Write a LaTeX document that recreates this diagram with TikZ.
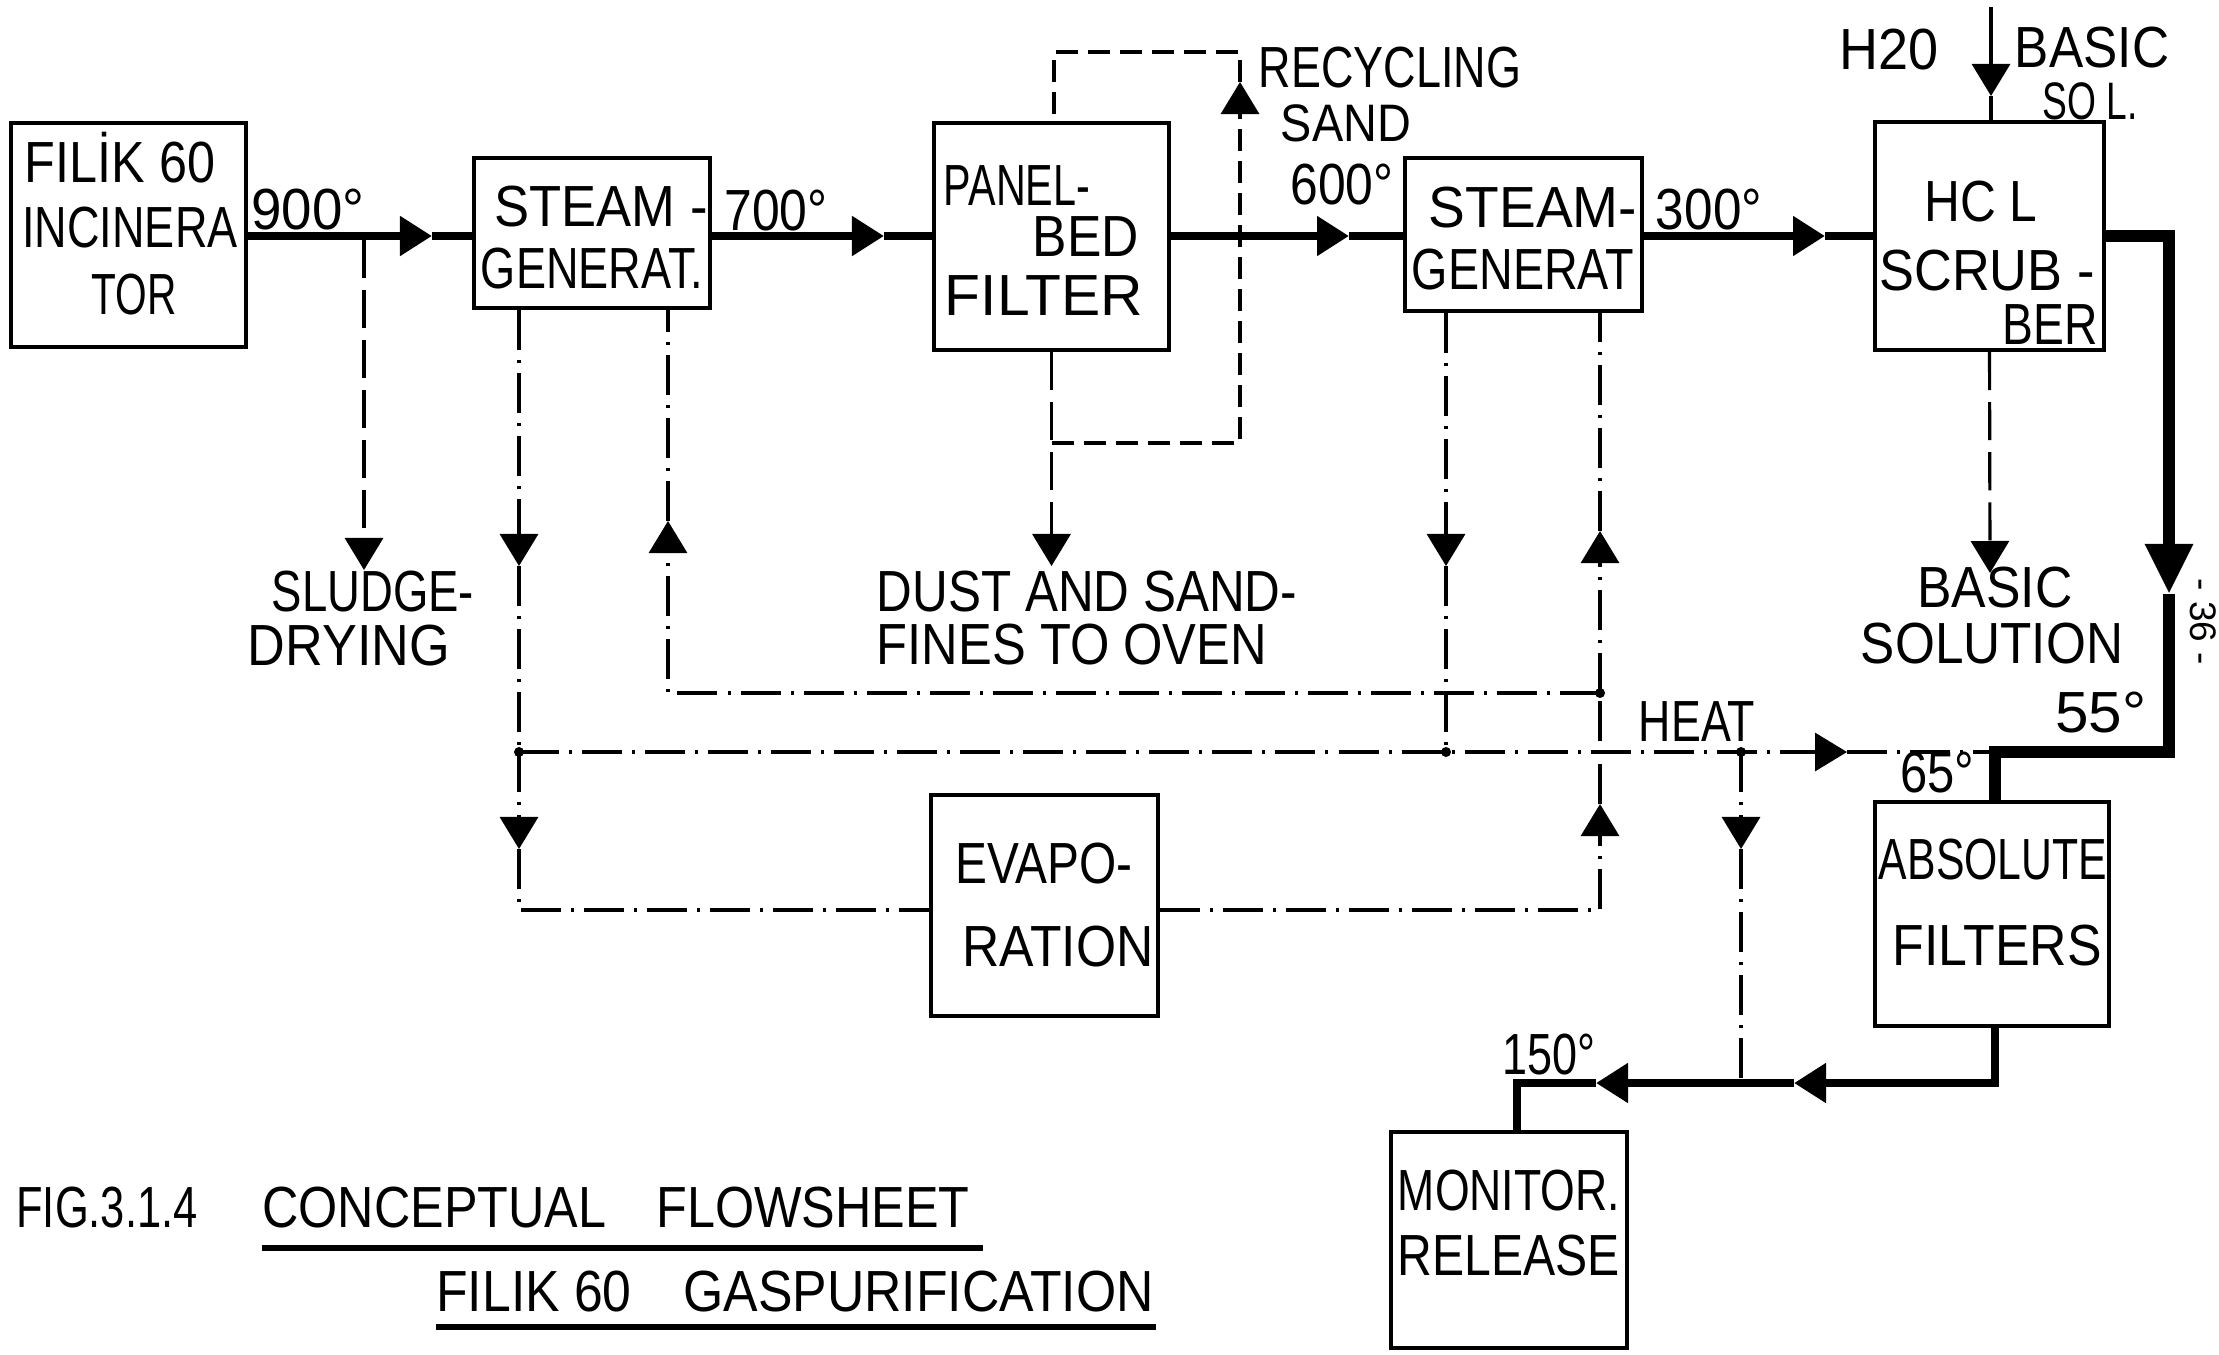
\documentclass[tikz,border=0pt]{standalone}
\usepackage{fontspec}
\setmainfont{Liberation Sans}
\usetikzlibrary{arrows.meta}
\newcommand\fw[2]{\resizebox{#1}{\height}{#2}}
\tikzset{
  box/.style={draw, line width=1.2pt, inner sep=0pt, rectangle},
  lbl/.style={inner sep=0pt, font=\fontsize{16.5}{19}\selectfont},
  slbl/.style={inner sep=0pt, font=\fontsize{15}{17}\selectfont},
  flow/.style={line width=2.3pt, line join=miter},
  bigflow/.style={line width=3.4pt, line join=miter},
  thinl/.style={line width=0.9pt},
  dsh/.style={thinl, dash pattern=on 0.38cm off 0.12cm},
  rdsh/.style={thinl, dash pattern=on 0.22cm off 0.1cm},
  dd/.style={thinl, dash pattern=on 0.4cm off 0.1cm on 0.03cm off 0.1cm},
  tip/.style={-{Triangle[length=0.32cm,width=0.38cm]}},
  bigtip/.style={-{Triangle[length=0.5cm,width=0.45cm]}},
  jdot/.style={circle, fill, inner sep=0pt, minimum size=0.1cm},
}
\begin{document}
\begin{tikzpicture}[x=0.01cm,y=-0.01cm]
\fill[white] (0,0) rectangle (2219,1354);
\path[use as bounding box] (0,0) rectangle (2219,1354);

% boxes
\node[box, minimum width=2.35cm, minimum height=2.24cm] (inc) at (128.5,235) {};
\node[box, minimum width=2.36cm, minimum height=1.50cm] (sg1) at (592,233) {};
\node[box, minimum width=2.35cm, minimum height=2.27cm] (pbf) at (1051.5,236.5) {};
\node[box, minimum width=2.37cm, minimum height=1.53cm] (sg2) at (1523.5,234.5) {};
\node[box, minimum width=2.29cm, minimum height=2.28cm] (hcl) at (1989.5,236) {};
\node[box, minimum width=2.34cm, minimum height=2.24cm] (abs) at (1992,914) {};
\node[box, minimum width=2.27cm, minimum height=2.21cm] (evap) at (1044.5,905.5) {};
\node[box, minimum width=2.36cm, minimum height=2.16cm] (mon) at (1509,1240) {};

% box texts
\node[lbl] (i1) at (120,158) {\fw{1.90cm}{FILİK 60}};
\node[lbl] (i2) at (130,228) {\fw{2.15cm}{INCINERA}};
\node[lbl] (i3) at (134,295) {\fw{0.85cm}{TOR}};
\node[lbl] (s11) at (601,207) {\fw{2.13cm}{STEAM -}};
\node[lbl] (s12) at (592,269) {\fw{2.22cm}{GENERAT.}};
\node[lbl] (p1) at (1017,186) {\fw{1.46cm}{PANEL-}};
\node[lbl] (p2) at (1086,237) {\fw{1.06cm}{BED}};
\node[lbl] (p3) at (1044,296) {\fw{1.98cm}{FILTER}};
\node[lbl] (s21) at (1533,208) {\fw{2.08cm}{STEAM-}};
\node[lbl] (s22) at (1523,270) {\fw{2.22cm}{GENERAT}};
\node[lbl] (h1) at (1981,202) {\fw{1.13cm}{HC L}};
\node[lbl] (h2) at (1987,271) {\fw{2.15cm}{SCRUB -}};
\node[lbl] (h3) at (2050,325) {\fw{0.95cm}{BER}};
\node[lbl] (a1) at (1993,860) {\fw{2.28cm}{ABSOLUTE}};
\node[lbl] (a2) at (1997,946) {\fw{2.09cm}{FILTERS}};
\node[lbl] (e1) at (1044,864) {\fw{1.77cm}{EVAPO-}};
\node[lbl] (e2) at (1058,947) {\fw{1.91cm}{RATION}};
\node[lbl] (m1) at (1509,1190) {\fw{2.22cm}{MONITOR.}};
\node[lbl] (m2) at (1509,1255) {\fw{2.22cm}{RELEASE}};

% labels
\node[lbl] (l900) at (308,210) {\fw{1.13cm}{900°}};
\node[lbl] (l700) at (776,211) {\fw{1.03cm}{700°}};
\node[lbl] (l600) at (1342,185) {\fw{1.03cm}{600°}};
\node[lbl] (l300) at (1709,210) {\fw{1.06cm}{300°}};
\node[lbl] (lrec) at (1390,68) {\fw{2.62cm}{RECYCLING}};
\node[slbl] (lsand) at (1346,123) {\fw{1.30cm}{SAND}};
\node[lbl] (lh2o) at (1889,50) {\fw{0.99cm}{H20}};
\node[lbl] (lbas1) at (2092,48) {\fw{1.54cm}{BASIC}};
\node[slbl] (lsol1) at (2090,101) {\fw{0.95cm}{SO L.}};
\node[lbl] (lsl1) at (373,592) {\fw{2.02cm}{SLUDGE-}};
\node[lbl] (lsl2) at (349,646) {\fw{2.02cm}{DRYING}};
\node[lbl] (ld1) at (1087,592) {\fw{4.20cm}{DUST AND SAND-}};
\node[lbl] (ld2) at (1072,645) {\fw{3.90cm}{FINES TO OVEN}};
\node[lbl] (lbas2) at (1995,588) {\fw{1.55cm}{BASIC}};
\node[lbl] (lsol2) at (1992,644) {\fw{2.62cm}{SOLUTION}};
\node[lbl] (l55) at (2101,713) {\fw{0.91cm}{55°}};
\node[lbl] (l65) at (1937,773) {\fw{0.74cm}{65°}};
\node[lbl] (lheat) at (1697,722) {\fw{1.16cm}{HEAT}};
\node[lbl] (l150) at (1549,1055) {\fw{0.93cm}{150°}};
\node[lbl] (lfig) at (107,1207) {\fw{1.81cm}{FIG.3.1.4}};
\node[lbl] (ltit1) at (616,1208) {\fw{7.07cm}{CONCEPTUAL\quad FLOWSHEET}};
\node[lbl] (ltit2) at (795,1291) {\fw{7.17cm}{FILIK 60\quad GASPURIFICATION}};
\node[inner sep=0pt, font=\fontsize{10.5}{12}\selectfont, rotate=-90] (pg) at (2203,622) {- 36 -};

% title underlines
\coordinate (u1a) at (262,1248); \coordinate (u1b) at (983,1248);
\coordinate (u2a) at (436,1327); \coordinate (u2b) at (1156,1327);
\draw[line width=1.6pt] (u1a) -- (u1b);
\draw[line width=1.6pt] (u2a) -- (u2b);

% main gas flow
\coordinate (t1) at (432,236);
\coordinate (t2) at (884,236);
\coordinate (t3) at (1349,236);
\coordinate (t4) at (1825,236);
\draw[flow, tip] (inc.east |- t1) -- (t1);
\draw[flow] (t1) -- (t1 -| sg1.west);
\draw[flow, tip] (sg1.east |- t2) -- (t2);
\draw[flow] (t2) -- (t2 -| pbf.west);
\draw[flow, tip] (pbf.east |- t3) -- (t3);
\draw[flow] (t3) -- (t3 -| sg2.west);
\draw[flow, tip] (sg2.east |- t4) -- (t4);
\draw[flow] (t4) -- (t4 -| hcl.west);

% scrubber outlet to absolute filters
\coordinate (c1) at (2169,236);
\coordinate (t5) at (2169,594);
\coordinate (c2) at (2169,752);
\coordinate (c3) at (1995,752);
\draw[bigflow, bigtip] (hcl.east |- c1) -- (c1) -- (t5);
\draw[bigflow] (t5) -- (c2) -- (c3) -- (c3 |- abs.north);

% absolute filters to monitor
\coordinate (c4) at (1995,1083);
\coordinate (t6) at (1794,1083);
\coordinate (t7) at (1596,1083);
\coordinate (c5) at (1517,1083);
\draw[flow, tip] (c4 |- abs.south) -- (c4) -- (t6);
\draw[flow, tip] (t6) -- (t7);
\draw[flow] (t7) -- (c5) -- (c5 |- mon.north);

% sludge drying
\coordinate (sl0) at (364,240);
\coordinate (sl1) at (364,570);
\draw[dsh, tip] (sl0) -- (sl1);

% dust and recycle
\coordinate (dt) at (1051.5,566);
\draw[dsh, tip] (pbf.south) -- (dt);
\coordinate (r0) at (1051.5,443);
\coordinate (r1) at (1240,443);
\coordinate (rt) at (1240,82);
\coordinate (r2) at (1240,52);
\coordinate (r3) at (1054,52);
\draw[rdsh, tip] (r0) -- (r1) -- (rt);
\draw[rdsh] (rt) -- (r2) -- (r3) -- (r3 |- pbf.north);

% scrubber feed and basic solution
\coordinate (in0) at (1991,7);
\coordinate (int) at (1991,96);
\draw[thinl, tip] (in0) -- (int);
\draw[thinl] (int) -- (int |- hcl.north);
\coordinate (bt) at (1990,573);
\draw[dsh, tip] (hcl.south) -- (bt);

% heat network
\coordinate (ha) at (519,566);
\coordinate (hj1) at (519,752);
\coordinate (hb) at (519,849);
\coordinate (hc) at (519,910);
\draw[dd, tip] (ha |- sg1.south) -- (ha);
\draw[dd] (ha) -- (hj1);
\draw[dd, tip] (hj1) -- (hb);
\draw[dd] (hb) -- (hc) -- (hc -| evap.west);

\coordinate (hj2) at (1446,752);
\coordinate (hj3) at (1741,752);
\coordinate (ht) at (1847,752);
\draw[dd, tip] (hj1) -- (hj2) -- (hj3) -- (ht);
\draw[dd] (ht) -- (c3);

\coordinate (hs2) at (1446,566);
\draw[dd, tip] (hs2 |- sg2.south) -- (hs2);
\draw[dd] (hs2) -- (hj2);

\coordinate (hj4) at (1600,693);
\coordinate (hr0) at (668,693);
\coordinate (hrt) at (668,521);
\draw[dd, tip] (hj4) -- (hr0) -- (hrt);
\draw[dd] (hrt) -- (hrt |- sg1.south);

\coordinate (he) at (1600,910);
\coordinate (het) at (1600,804);
\coordinate (hut) at (1600,531);
\draw[dd, tip] (he -| evap.east) -- (he) -- (het);
\draw[dd] (het) -- (hj4);
\draw[dd, tip] (hj4) -- (hut);
\draw[dd] (hut) -- (hut |- sg2.south);

\coordinate (hdt) at (1741,849);
\draw[dd, tip] (hj3) -- (hdt);
\draw[dd] (hdt) -- (hdt |- c4);

% junction dots
\node[jdot] (d1) at (hj1) {};
\node[jdot] (d2) at (hj2) {};
\node[jdot] (d3) at (hj3) {};
\node[jdot] (d4) at (hj4) {};
\end{tikzpicture}
\end{document}
